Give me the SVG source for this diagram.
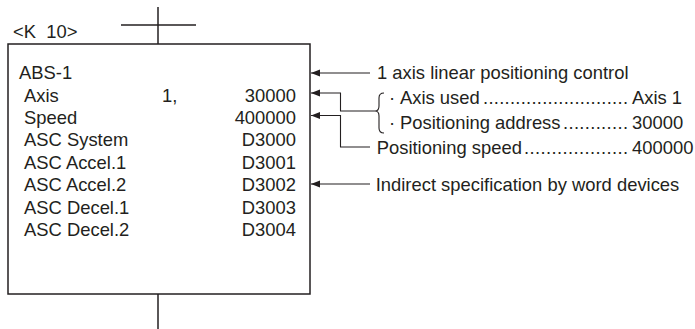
<svg xmlns="http://www.w3.org/2000/svg" width="695" height="329" viewBox="0 0 695 329">
<style>
text{font-family:"Liberation Sans",Arial,sans-serif;font-size:18.4px;fill:#231f20}
.r{text-anchor:end}
.ln{fill:none;stroke:#231f20;stroke-width:1.5}
.cn{fill:none;stroke:#231f20;stroke-width:1.1}
</style>
<defs>
<marker id="ah" markerUnits="userSpaceOnUse" markerWidth="10" markerHeight="8" refX="9" refY="4" orient="auto">
<path d="M0,0.5 L9,4 L0,7.5 Z" fill="#231f20"/>
</marker>
</defs>
<g id="rung">
<line class="ln" x1="158" y1="7" x2="158" y2="44"/>
<line class="ln" x1="121" y1="25" x2="196" y2="25"/>
<line class="ln" x1="158" y1="294" x2="158" y2="329"/>
<text x="13" y="38" xml:space="preserve" style="white-space:pre">&lt;K  10&gt;</text>
</g>
<g id="abs-box">
<rect class="ln" x="8" y="44" width="302" height="250"/>
<text x="19" y="79.3">ABS-1</text>
<text x="24" y="101.7">Axis</text>
<text x="162" y="101.7">1,</text>
<text class="r" x="296" y="101.7">30000</text>
<text x="24" y="124">Speed</text>
<text class="r" x="296" y="124">400000</text>
<text x="24" y="146.4">ASC System</text>
<text class="r" x="296" y="146.4">D3000</text>
<text x="24" y="168.8">ASC Accel.1</text>
<text class="r" x="296" y="168.8">D3001</text>
<text x="24" y="191.2">ASC Accel.2</text>
<text class="r" x="296" y="191.2">D3002</text>
<text x="24" y="213.6">ASC Decel.1</text>
<text class="r" x="296" y="213.6">D3003</text>
<text x="24" y="236">ASC Decel.2</text>
<text class="r" x="296" y="236">D3004</text>
</g>
<g id="connectors">
<path class="cn" d="M370,73 H311" marker-end="url(#ah)"/>
<path class="cn" d="M375,111 H340.5 V93 H311" marker-end="url(#ah)"/>
<path class="cn" d="M370,147 H340.5 V115.5 H311" marker-end="url(#ah)"/>
<path class="cn" d="M370,184 H311" marker-end="url(#ah)"/>
<path class="cn" d="M384,93 Q379,93 379,98 L379,106 Q379,111 375,111 Q379,111 379,116 L379,128 Q379,133 384,133"/>
</g>
<g id="note-function">
<text x="377" y="79.3">1 axis linear positioning control</text>
</g>
<g id="note-axis">
<text x="389" y="103.5">·</text>
<text x="400" y="103.5">Axis used</text>
<text x="483" y="103.5" textLength="145" lengthAdjust="spacing">...........................</text>
<text x="632" y="103.5">Axis 1</text>
</g>
<g id="note-address">
<text x="389" y="128.5">·</text>
<text x="400" y="128.5">Positioning address</text>
<text x="563" y="128.5" textLength="65" lengthAdjust="spacing">............</text>
<text x="632" y="128.5">30000</text>
</g>
<g id="note-speed">
<text x="376.7" y="154">Positioning speed</text>
<text x="524" y="154" textLength="104" lengthAdjust="spacing">...................</text>
<text x="632" y="154">400000</text>
</g>
<g id="note-indirect">
<text x="375.7" y="191">Indirect specification by word devices</text>
</g>
</svg>
